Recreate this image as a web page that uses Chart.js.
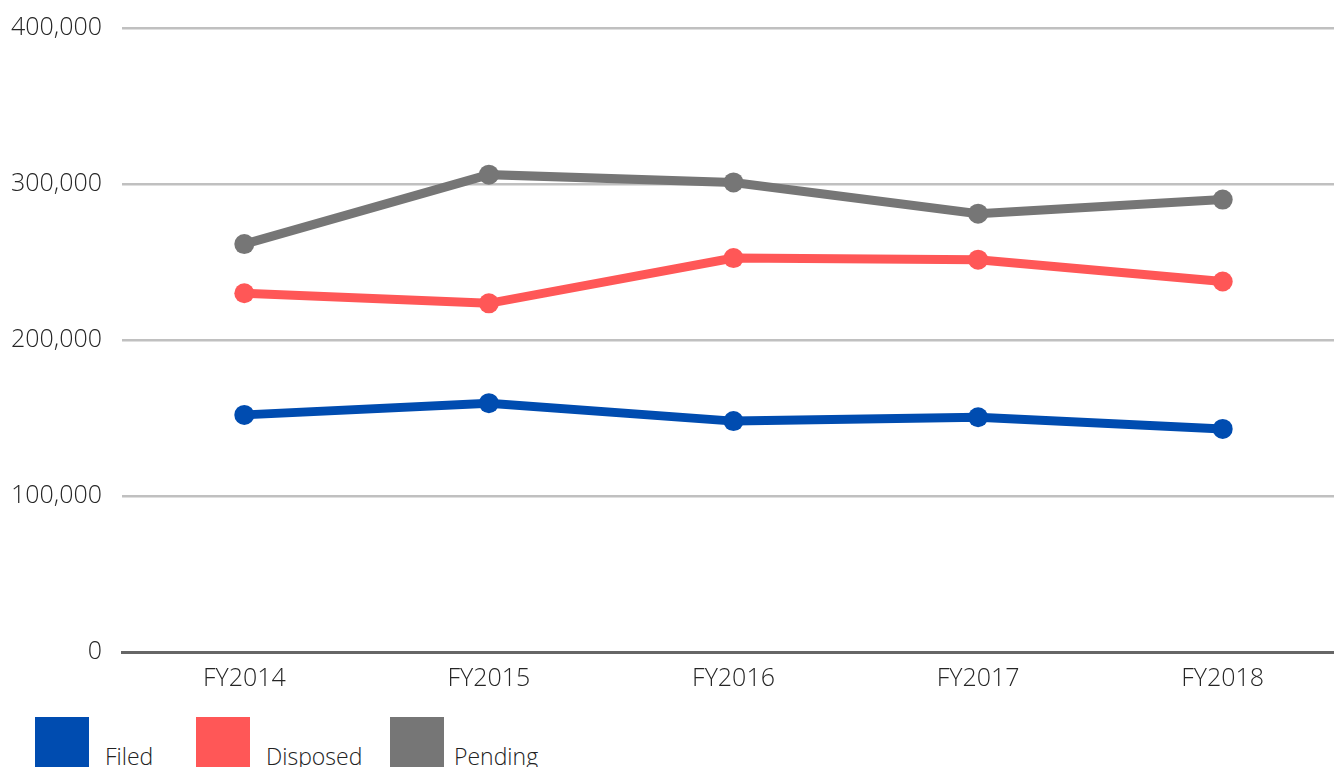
<!DOCTYPE html>
<html>
<head>
<meta charset="utf-8">
<script src="https://cdn.jsdelivr.net/npm/chart.js@4"></script>
<style>
  html, body { margin: 0; padding: 0; background: #fff; overflow: hidden; width: 1334px; height: 767px; position: relative; }
  #grafico { position: absolute; left: 0; top: -7px; }
  .item { position: absolute; top: 717px; display: flex; font-family: "Open Sans", sans-serif; font-weight: 300; font-size: 23px; color: #222; }
  .caixa { width: 54px; height: 60px; }
  .texto { margin-top: 24px; line-height: 30px; }
</style>
</head>
<body>
<canvas id="grafico" width="1355" height="713"></canvas>
<script>
const anos = ["FY2014", "FY2015", "FY2016", "FY2017", "FY2018"];
const filed = [152000, 159500, 148000, 150500, 143000];
const disposed = [230000, 223500, 252500, 251500, 237500];
const pending = [261500, 306000, 301000, 281000, 290000];

const series = [
    { nome: "Filed", dados: filed, cor: "#004cb0" },
    { nome: "Disposed", dados: disposed, cor: "#ff5757" },
    { nome: "Pending", dados: pending, cor: "#767676" }
];

const fonte = { family: "'Open Sans', sans-serif", size: 25, weight: 300 };

new Chart(document.getElementById('grafico'), {
    type: 'line',
    data: {
        labels: anos,
        datasets: series.map(s => ({
            label: s.nome,
            data: s.dados,
            borderColor: s.cor,
            backgroundColor: s.cor,
            borderWidth: 9,
            pointRadius: 10,
            pointBorderWidth: 0,
            pointBackgroundColor: s.cor,
            tension: 0
        }))
    },
    options: {
        responsive: false,
        animation: false,
        layout: { padding: { top: 8, right: 0, left: 0, bottom: 0 } },
        plugins: { legend: { display: false }, tooltip: { enabled: false } },
        scales: {
            x: {
                offset: true,
                grid: { display: false, drawTicks: false },
                border: { display: true, color: '#666', width: 3 },
                ticks: { font: fonte, color: '#262626', padding: 12 }
            },
            y: {
                min: 0, max: 400000,
                afterFit: (axis) => { axis.width = 122; },
                grid: { color: '#c0c0c0', lineWidth: 2.5, drawTicks: false },
                border: { display: false },
                ticks: {
                    stepSize: 100000, font: fonte, color: '#262626', padding: 20,
                    callback: v => v.toLocaleString('en-US')
                }
            }
        }
    }
});

// Legenda em HTML, fora do canvas
const posicoes = [35, 196, 390];
const espacos = [16, 16, 10];
series.forEach((s, i) => {
    const item = document.createElement('div');
    item.className = 'item';
    item.style.left = posicoes[i] + 'px';
    item.innerHTML = `<div class="caixa" style="background:${s.cor}"></div><div class="texto" style="margin-left:${espacos[i]}px">${s.nome}</div>`;
    document.body.appendChild(item);
});
</script>
</body>
</html>
